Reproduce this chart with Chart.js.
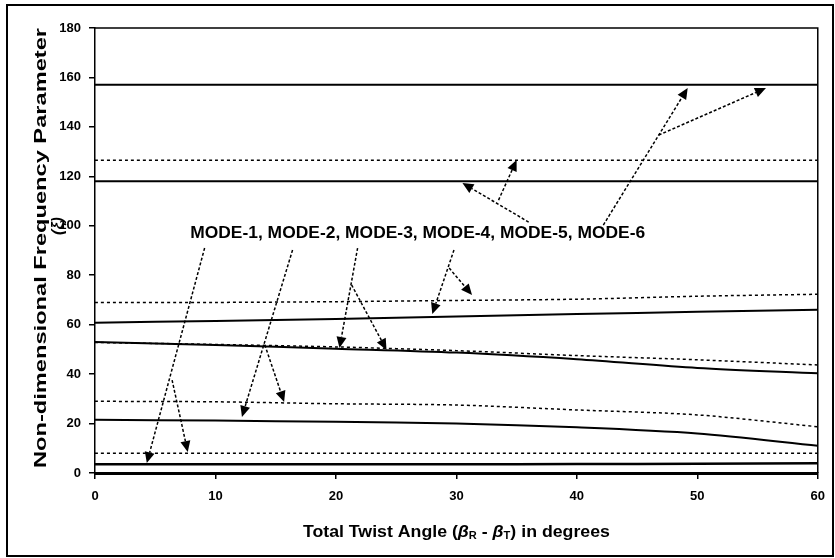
<!DOCTYPE html>
<html>
<head>
<meta charset="utf-8">
<script src="https://cdn.jsdelivr.net/npm/chart.js@4.4.0/dist/chart.umd.min.js"></script>
<style>
html, body { margin: 0; padding: 0; background: #fff; }
#wrap { width: 835px; height: 558px; }
</style>
</head>
<body>
<div id="wrap"><canvas id="freqChart" width="835" height="558"></canvas></div>
<script>
// x values (total twist angle, degrees)
const twistAngles = [0, 10, 20, 30, 40, 50, 60];
const yTickValues = [0, 20, 40, 60, 80, 100, 120, 140, 160, 180];

// frequency parameter, solid = first case, dotted = second case
const mode1Solid  = [3.5, 3.5, 3.5, 3.5, 3.6, 3.7, 3.9];
const mode1Dotted = [8.0, 8.0, 8.0, 8.0, 8.0, 8.0, 8.0];
const mode2Solid  = [21.5, 21.2, 20.7, 20.0, 18.5, 16.0, 11.0];
const mode2Dotted = [29.0, 28.8, 28.0, 27.5, 25.5, 23.5, 18.7];
const mode3Solid  = [53.0, 51.8, 50.3, 48.7, 46.0, 42.5, 40.3];
const mode3Dotted = [52.8, 52.0, 51.0, 49.5, 47.5, 45.8, 43.7];
const mode4Solid  = [60.8, 61.5, 62.3, 63.3, 64.3, 65.2, 66.0];
const mode4Dotted = [69.0, 69.0, 69.3, 69.8, 70.3, 71.5, 72.3];
const mode5Solid  = [118, 118, 118, 118, 118, 118, 118];
const mode5Dotted = [126.5, 126.5, 126.5, 126.5, 126.5, 126.5, 126.5];
const mode6Solid  = [157, 157, 157, 157, 157, 157, 157];

// annotation: label anchor and arrows [x1, y1, x2, y2] in data units
const modeLabel = 'MODE-1, MODE-2, MODE-3, MODE-4, MODE-5, MODE-6';
const modeLabelAt = [7.9, 97];
const modeArrows = [
    [9.1, 91, 4.3, 4.0],
    [6.4, 37.6, 7.7, 8.5],
    [16.4, 90.2, 12.2, 22.7],
    [14.1, 51.8, 15.7, 28.7],
    [21.8, 91.0, 20.3, 50.6],
    [21.3, 76.1, 24.2, 49.8],
    [29.8, 90.2, 28.0, 64.3],
    [29.4, 82.9, 31.3, 72.0],
    [36.0, 101.5, 30.5, 117.3],
    [33.5, 110.4, 35.0, 126.6],
    [42.2, 100.3, 49.2, 155.7],
    [46.8, 136.7, 55.7, 155.7]
];

const toPoints = (arr) => arr.map((v, i) => ({ x: twistAngles[i], y: v }));

const solid = (data, w) => ({
    data: toPoints(data),
    borderColor: '#000',
    borderWidth: w || 2,
    pointRadius: 0,
    fill: false,
    tension: 0.3
});
const dotted = (data) => ({
    data: toPoints(data),
    borderColor: '#000',
    borderWidth: 1.5,
    borderDash: [3, 3],
    pointRadius: 0,
    fill: false,
    tension: 0.3
});

const tickFont = { family: "'Liberation Sans', Arial, sans-serif", size: 13, weight: 'bold' };

// frame, titles, arrows
const decorPlugin = {
    id: 'decor',
    afterDatasetsDraw(chart) {
        const ctx = chart.ctx;
        const xs = chart.scales.x, ys = chart.scales.y;
        ctx.save();
        ctx.strokeStyle = '#000';
        ctx.fillStyle = '#000';
        ctx.lineWidth = 1.5;
        modeArrows.forEach(a => {
            const x1 = xs.getPixelForValue(a[0]), y1 = ys.getPixelForValue(a[1]);
            const x2 = xs.getPixelForValue(a[2]), y2 = ys.getPixelForValue(a[3]);
            const ang = Math.atan2(y2 - y1, x2 - x1);
            const hl = 11, hw = 5;
            ctx.setLineDash([3, 2]);
            ctx.beginPath();
            ctx.moveTo(x1, y1);
            ctx.lineTo(x2 - Math.cos(ang) * hl, y2 - Math.sin(ang) * hl);
            ctx.stroke();
            ctx.setLineDash([]);
            ctx.beginPath();
            ctx.moveTo(x2, y2);
            ctx.lineTo(x2 - Math.cos(ang) * hl - Math.sin(ang) * hw, y2 - Math.sin(ang) * hl + Math.cos(ang) * hw);
            ctx.lineTo(x2 - Math.cos(ang) * hl + Math.sin(ang) * hw, y2 - Math.sin(ang) * hl - Math.cos(ang) * hw);
            ctx.closePath();
            ctx.fill();
        });

        // mode label, stretched to the width seen in the figure
        const lx = xs.getPixelForValue(modeLabelAt[0]), ly = ys.getPixelForValue(modeLabelAt[1]);
        ctx.font = "bold 15px 'Liberation Sans', Arial, sans-serif";
        ctx.textBaseline = 'middle';
        ctx.textAlign = 'left';
        const w = ctx.measureText(modeLabel).width;
        ctx.translate(lx, ly);
        ctx.scale(455 / w, 1.1);
        ctx.fillText(modeLabel, 0, 0);
        ctx.restore();
    },
    afterDraw(chart) {
        const ctx = chart.ctx;
        const ca = chart.chartArea;
        ctx.save();
        ctx.strokeStyle = '#000';
        // plot frame
        ctx.lineWidth = 1.5;
        ctx.beginPath();
        ctx.moveTo(ca.left, ca.top);
        ctx.lineTo(ca.right, ca.top);
        ctx.lineTo(ca.right, ca.bottom);
        ctx.stroke();
        // outer frame
        ctx.lineWidth = 2;
        ctx.strokeRect(7, 5, 826, 551);

        ctx.fillStyle = '#000';
        ctx.textBaseline = 'middle';

        // x title with subscripts
        const big = "bold 16px 'Liberation Sans', Arial, sans-serif";
        const ital = "italic bold 16px 'Liberation Sans', Arial, sans-serif";
        const small = "bold 10px 'Liberation Sans', Arial, sans-serif";
        const parts = [
            ['Total Twist Angle (', big, 0],
            ['\u03B2', ital, 0],
            ['R', small, 4],
            [' - ', big, 0],
            ['\u03B2', ital, 0],
            ['T', small, 4],
            [') in degrees', big, 0]
        ];
        let total = 0;
        parts.forEach(p => { ctx.font = p[1]; total += ctx.measureText(p[0]).width; });
        const fit = 307 / total;
        ctx.save();
        ctx.translate((ca.left + ca.right) / 2 - 307 / 2, 532);
        ctx.scale(fit, 1.05);
        let px = 0;
        ctx.textAlign = 'left';
        parts.forEach(p => {
            ctx.font = p[1];
            ctx.fillText(p[0], px, p[2]);
            px += ctx.measureText(p[0]).width;
        });
        ctx.restore();

        // y title, two lines
        ctx.translate(42, 248);
        ctx.rotate(-Math.PI / 2);
        ctx.textAlign = 'center';
        ctx.font = big;
        const t1 = 'Non-dimensional Frequency Parameter';
        const w1 = ctx.measureText(t1).width;
        ctx.save();
        ctx.scale(440 / w1, 1);
        ctx.fillText(t1, 0, 0);
        ctx.restore();
        ctx.font = ital;
        ctx.fillText('(\u03BE)', 22, 17);
        ctx.restore();
    }
};

new Chart(document.getElementById('freqChart'), {
    type: 'line',
    data: {
        datasets: [
            solid(mode1Solid, 2.5), dotted(mode1Dotted),
            solid(mode2Solid), dotted(mode2Dotted),
            solid(mode3Solid), dotted(mode3Dotted),
            solid(mode4Solid), dotted(mode4Dotted),
            solid(mode5Solid), dotted(mode5Dotted),
            solid(mode6Solid)
        ]
    },
    options: {
        responsive: false,
        animation: false,
        layout: { padding: { top: 28, right: 15, left: 0, bottom: 0 } },
        plugins: {
            legend: { display: false },
            tooltip: { enabled: false }
        },
        scales: {
            x: {
                type: 'linear',
                min: 0,
                max: 60,
                ticks: { stepSize: 10, color: '#000', font: tickFont, padding: 10 },
                grid: { drawOnChartArea: false, tickLength: 6, color: '#000', lineWidth: 1.5 },
                border: { color: '#000', width: 3 },
                afterFit(s) { s.height = 85; }
            },
            y: {
                min: 0,
                max: 180,
                afterBuildTicks(s) { s.ticks = yTickValues.map(v => ({ value: v })); },
                ticks: { color: '#000', font: tickFont, padding: 8 },
                grid: { drawOnChartArea: false, tickLength: 6, color: '#000', lineWidth: 1.5 },
                border: { color: '#000', width: 1.5 },
                afterFit(s) { s.width = 95; }
            }
        }
    },
    plugins: [decorPlugin]
});
</script>
</body>
</html>
